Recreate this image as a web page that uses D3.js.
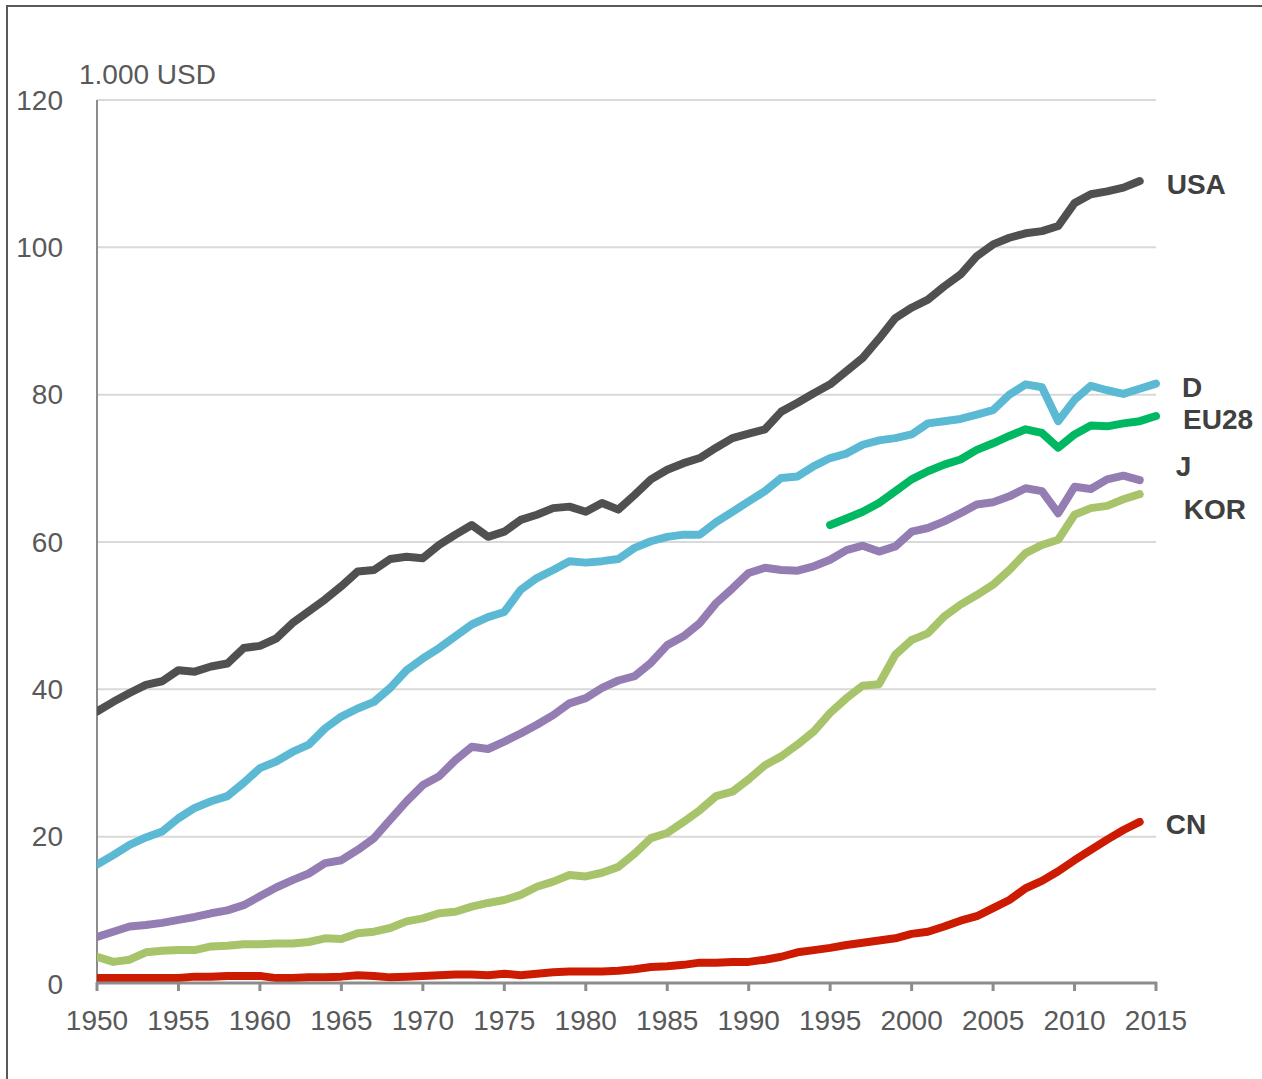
<!DOCTYPE html>
<html lang="de">
<head>
<meta charset="UTF-8">
<title>BIP je Erwerbstätigen</title>
<script src="https://d3js.org/d3.v7.min.js"></script>
<style>
body { margin: 0; background: #fff; }
svg { display: block; font-family: "Liberation Sans", Arial, sans-serif; }
.tick-label { font-size: 28px; fill: #595959; }
.unit { font-size: 28px; fill: #595959; }
.series-label { font-size: 28px; font-weight: bold; fill: #404040; }
.grid line { stroke: #d9d9d9; stroke-width: 2px; }
</style>
</head>
<body>
<svg width="1262" height="1079"></svg>
<script>

// years on the x axis, one value per year (null = no data)
var years = d3.range(1950, 2016);
var xTicks = d3.range(1950, 2016, 5);
var yTicks = [0, 20, 40, 60, 80, 100, 120];
var unitLabel = "1.000 USD";

var usa = [37.0, 38.3, 39.5, 40.6, 41.1, 42.6, 42.4, 43.1, 43.5, 45.6,
  45.9, 46.9, 49.0, 50.6, 52.2, 54.0, 56.0, 56.2, 57.7, 58.0,
  57.8, 59.6, 61.0, 62.3, 60.7, 61.4, 63.0, 63.7, 64.6, 64.8,
  64.1, 65.3, 64.4, 66.4, 68.5, 69.8, 70.7, 71.4, 72.8, 74.1,
  74.7, 75.3, 77.7, 78.9, 80.2, 81.4, 83.2, 85.0, 87.6, 90.4,
  91.8, 92.9, 94.7, 96.3, 98.8, 100.4, 101.3, 101.9, 102.2, 102.9,
  106.0, 107.2, 107.6, 108.1, 109.0, null];

var germany = [16.2, 17.5, 18.9, 19.9, 20.7, 22.5, 23.9, 24.8, 25.5, 27.3,
  29.3, 30.2, 31.5, 32.5, 34.7, 36.3, 37.4, 38.3, 40.2, 42.6,
  44.2, 45.6, 47.2, 48.8, 49.8, 50.5, 53.5, 55.1, 56.2, 57.4,
  57.2, 57.4, 57.7, 59.2, 60.1, 60.7, 61.0, 61.0, 62.7, 64.1,
  65.5, 66.9, 68.7, 68.9, 70.3, 71.4, 72.0, 73.2, 73.8, 74.1,
  74.6, 76.1, 76.4, 76.7, 77.3, 77.9, 80.0, 81.4, 81.0, 76.4,
  79.3, 81.2, 80.6, 80.1, 80.8, 81.5];

var eu28 = [null, null, null, null, null, null, null, null, null, null,
  null, null, null, null, null, null, null, null, null, null,
  null, null, null, null, null, null, null, null, null, null,
  null, null, null, null, null, null, null, null, null, null,
  null, null, null, null, null, 62.3, 63.2, 64.1, 65.3, 66.9,
  68.5, 69.6, 70.5, 71.2, 72.5, 73.4, 74.4, 75.3, 74.8, 72.8,
  74.6, 75.8, 75.7, 76.1, 76.4, 77.1];

var japan = [6.4, 7.1, 7.8, 8.0, 8.3, 8.7, 9.1, 9.6, 10.0, 10.7,
  11.9, 13.1, 14.1, 15.0, 16.4, 16.8, 18.2, 19.8, 22.3, 24.8,
  27.0, 28.2, 30.4, 32.2, 31.9, 32.9, 34.0, 35.2, 36.5, 38.1,
  38.8, 40.2, 41.2, 41.8, 43.6, 46.0, 47.2, 49.0, 51.7, 53.7,
  55.8, 56.5, 56.2, 56.1, 56.7, 57.6, 58.9, 59.5, 58.7, 59.4,
  61.4, 61.9, 62.8, 63.9, 65.1, 65.4, 66.2, 67.3, 66.9, 63.9,
  67.5, 67.2, 68.5, 69.0, 68.4, null];

var korea = [3.7, 3.0, 3.3, 4.3, 4.5, 4.6, 4.6, 5.1, 5.2, 5.4,
  5.4, 5.5, 5.5, 5.7, 6.2, 6.1, 6.9, 7.1, 7.6, 8.5,
  8.9, 9.6, 9.8, 10.5, 11.0, 11.4, 12.1, 13.2, 13.9, 14.8,
  14.6, 15.1, 15.9, 17.7, 19.8, 20.5, 22.0, 23.6, 25.5, 26.1,
  27.8, 29.7, 30.9, 32.5, 34.3, 36.8, 38.8, 40.5, 40.7, 44.7,
  46.7, 47.6, 49.9, 51.5, 52.8, 54.2, 56.2, 58.5, 59.6, 60.3,
  63.7, 64.6, 64.9, 65.8, 66.5, null];

var china = [0.8, 0.8, 0.8, 0.8, 0.8, 0.8, 1.0, 1.0, 1.1, 1.1,
  1.1, 0.8, 0.8, 0.9, 0.9, 1.0, 1.2, 1.1, 0.9, 1.0,
  1.1, 1.2, 1.3, 1.3, 1.2, 1.4, 1.2, 1.4, 1.6, 1.7,
  1.7, 1.7, 1.8, 2.0, 2.3, 2.4, 2.6, 2.9, 2.9, 3.0,
  3.0, 3.3, 3.7, 4.3, 4.6, 4.9, 5.3, 5.6, 5.9, 6.2,
  6.8, 7.1, 7.8, 8.6, 9.2, 10.3, 11.4, 13.0, 14.0, 15.3,
  16.8, 18.2, 19.6, 20.9, 22.0, null];

var seriesNames = ["USA", "D", "EU28", "J", "KOR", "CN"];
var seriesValues = [usa, germany, eu28, japan, korea, china];
var seriesColors = ["#505050", "#5bb9d3", "#00b862", "#947db2", "#a8c46b", "#cc1b00"];

// label offsets from the last point of each line (px)
var labelOffsets = [[27, 3], [26, 4], [27, 3], [36, -14], [44, 15], [26, 2]];

var svg = d3.select("svg"),
    plotLeft = 97, plotRight = 1156, plotTop = 100, plotBottom = 984;

var x = d3.scaleLinear().domain([1950, 2015]).range([plotLeft, plotRight]);
var y = d3.scaleLinear().domain([0, 120]).range([plotBottom, plotTop]);

// outer frame (runs off the right and bottom edge)
svg.append("rect")
    .attr("x", 7).attr("y", 6)
    .attr("width", 1400).attr("height", 1200)
    .attr("fill", "none")
    .attr("stroke", "#595959")
    .attr("stroke-width", 2);

// horizontal gridlines
svg.append("g")
    .attr("class", "grid")
    .selectAll("line")
    .data(yTicks.filter(function(d) { return d > 0; }))
    .enter().append("line")
      .attr("x1", plotLeft).attr("x2", plotRight)
      .attr("y1", function(d) { return y(d); })
      .attr("y2", function(d) { return y(d); });

// y axis line + labels
svg.append("line")
    .attr("x1", plotLeft).attr("x2", plotLeft)
    .attr("y1", plotTop).attr("y2", plotBottom)
    .attr("stroke", "#8c8c8c").attr("stroke-width", 2);

svg.append("g").selectAll("text")
    .data(yTicks)
    .enter().append("text")
      .attr("class", "tick-label")
      .attr("x", 63)
      .attr("y", function(d) { return y(d); })
      .attr("dy", "0.35em")
      .attr("text-anchor", "end")
      .text(function(d) { return d; });

svg.append("text")
    .attr("class", "unit")
    .attr("x", 79).attr("y", 84)
    .text(unitLabel);

// lines, clipped on the left so the round caps do not cross the axis
svg.append("clipPath").attr("id", "plot-clip")
  .append("rect")
    .attr("x", plotLeft).attr("y", 0)
    .attr("width", 1262 - plotLeft).attr("height", 1079);

var line = d3.line()
    .defined(function(d) { return d != null; })
    .x(function(d, i) { return x(years[i]); })
    .y(function(d) { return y(d); });

var lines = svg.append("g").attr("clip-path", "url(#plot-clip)");

seriesValues.forEach(function(vals, k) {
  lines.append("path")
      .datum(vals)
      .attr("d", line)
      .attr("fill", "none")
      .attr("stroke", seriesColors[k])
      .attr("stroke-width", 8)
      .attr("stroke-linecap", "round")
      .attr("stroke-linejoin", "round");
});

// x axis drawn on top of the lines
var xAxis = svg.append("g");
xAxis.append("line")
    .attr("x1", plotLeft - 1).attr("x2", plotRight + 1)
    .attr("y1", plotBottom - 1).attr("y2", plotBottom - 1)
    .attr("stroke", "#8c8c8c").attr("stroke-width", 3);

xAxis.selectAll(".tick")
    .data(xTicks)
    .enter().append("line")
      .attr("x1", function(d) { return x(d); })
      .attr("x2", function(d) { return x(d); })
      .attr("y1", plotBottom - 2).attr("y2", plotBottom + 7)
      .attr("stroke", "#8c8c8c").attr("stroke-width", 3);

xAxis.selectAll("text")
    .data(xTicks)
    .enter().append("text")
      .attr("class", "tick-label")
      .attr("x", function(d) { return x(d); })
      .attr("y", 1030)
      .attr("text-anchor", "middle")
      .text(function(d) { return d; });

// series labels next to the line ends
seriesValues.forEach(function(vals, k) {
  var last = vals.length - 1;
  while (vals[last] == null) last--;
  svg.append("text")
      .attr("class", "series-label")
      .attr("x", x(years[last]) + labelOffsets[k][0])
      .attr("y", y(vals[last]) + labelOffsets[k][1])
      .attr("dy", "0.35em")
      .text(seriesNames[k]);
});

</script>
</body>
</html>
